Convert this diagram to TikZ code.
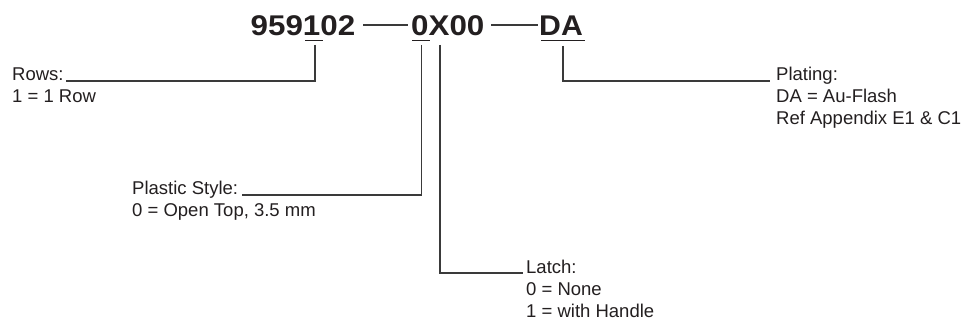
\documentclass[tikz,border=0pt]{standalone}
\usepackage{fontspec}
\setmainfont{Liberation Sans}
\definecolor{ink}{HTML}{231F20}
\definecolor{wire}{HTML}{3A3A3A}
\begin{document}
\begin{tikzpicture}[x=1pt,y=-1pt,
  title/.style={inner sep=0pt,anchor=base west,text=ink,font=\fontsize{28.5}{30}\selectfont\bfseries},
  lbl/.style={inner sep=0pt,anchor=base west,align=left,text=ink,font=\fontsize{18.5}{22}\selectfont},
  wireline/.style={draw=wire,line width=1.3pt},
  uline/.style={draw=ink,line width=1.6pt}]
\useasboundingbox[fill=white] (0,0) rectangle (964,323);
% title parts
\node[title] (t1) at (250.5,36) {\scalebox{1.1}[1]{959102}};
\node[title] (t2) at (411,36) {\scalebox{1.1}[1]{0X00}};
\node[title] (t3) at (539,36) {\scalebox{1.06}[1]{DA}};
\coordinate (d1a) at (363,25); \coordinate (d1b) at (408,25);
\coordinate (d2a) at (491,25); \coordinate (d2b) at (538,25);
\draw[wireline] (d1a) -- (d1b);
\draw[wireline] (d2a) -- (d2b);
% underlines
\draw[uline] (305,40.5) -- (323,40.5);
\draw[uline] (412,40.5) -- (430,40.5);
\draw[uline] (541,40.5) -- (585,40.5);
% labels (anchor = baseline of last line)
\node[lbl] (rows) at (12,103) {Rows:\\1 = 1 Row};
\node[lbl] (plastic) at (132,217) {Plastic Style:\\0 = Open Top, 3.5 mm};
\node[lbl] (latch) at (526,317) {Latch:\\0 = None\\1 = with Handle};
\node[lbl] (plating) at (776,125) {Plating:\\DA = Au-Flash\\Ref Appendix E1 \& C1};
% connector ends
\coordinate (rtop) at (315,45); \coordinate (rend) at (66,81);
\coordinate (ptop) at (421.5,45); \coordinate (pend) at (242,195);
\coordinate (ltop) at (440,45); \coordinate (lend) at (523,273);
\coordinate (dtop) at (563,46); \coordinate (dend) at (770,81);
\draw[wireline] (rtop) |- (rend);
\draw[wireline] (ptop) |- (pend);
\draw[wireline] (ltop) |- (lend);
\draw[wireline] (dtop) |- (dend);
\end{tikzpicture}
\end{document}
